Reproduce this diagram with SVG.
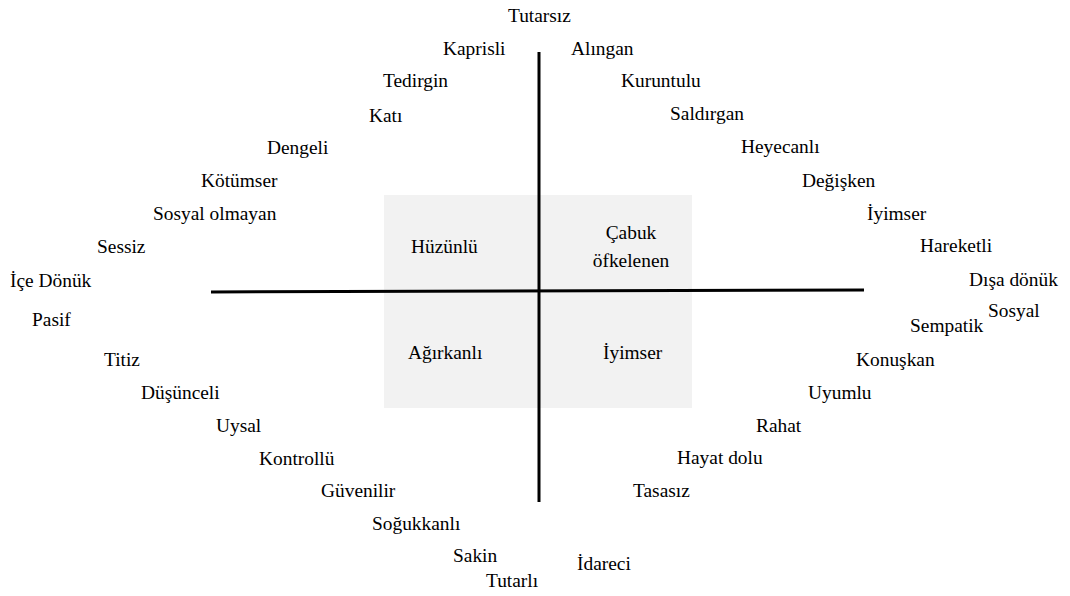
<svg xmlns="http://www.w3.org/2000/svg" width="1070" height="596" viewBox="0 0 1070 596">
<style>
text{font-family:"Liberation Serif","Times New Roman",serif;font-size:19.4px;fill:#000}
.box{fill:#f2f2f2}
.axis{stroke:#000;stroke-width:3;fill:none}
</style>
<rect width="1070" height="596" fill="#fff"/>
<g id="quadrants">
<rect class="box" x="384" y="195" width="308" height="213"/>
</g>
<g id="connectors">
<line class="axis" x1="539" y1="52" x2="539" y2="502"/>
<line class="axis" x1="211" y1="292" x2="864" y2="290"/>
</g>
<g id="q-huzunlu"><text x="411" y="253">Hüzünlü</text></g>
<g id="q-cabuk"><text x="631" y="239" text-anchor="middle">Çabuk</text><text x="631" y="267" text-anchor="middle">öfkelenen</text></g>
<g id="q-agirkanli"><text x="408" y="359">Ağırkanlı</text></g>
<g id="q-iyimser"><text x="603" y="359">İyimser</text></g>
<g id="t1"><text x="508" y="22">Tutarsız</text></g>
<g id="t2"><text x="443" y="55">Kaprisli</text></g>
<g id="t3"><text x="571" y="55">Alıngan</text></g>
<g id="t4"><text x="383" y="87">Tedirgin</text></g>
<g id="t5"><text x="621" y="87">Kuruntulu</text></g>
<g id="t6"><text x="369" y="122">Katı</text></g>
<g id="t7"><text x="670" y="120">Saldırgan</text></g>
<g id="t8"><text x="267" y="154">Dengeli</text></g>
<g id="t9"><text x="741" y="153">Heyecanlı</text></g>
<g id="t10"><text x="201" y="187">Kötümser</text></g>
<g id="t11"><text x="802" y="187">Değişken</text></g>
<g id="t12"><text x="153" y="220">Sosyal olmayan</text></g>
<g id="t13"><text x="867" y="220">İyimser</text></g>
<g id="t14"><text x="97" y="253">Sessiz</text></g>
<g id="t15"><text x="920" y="252">Hareketli</text></g>
<g id="t16"><text x="10" y="287">İçe Dönük</text></g>
<g id="t17"><text x="969" y="286">Dışa dönük</text></g>
<g id="t18"><text x="988" y="317">Sosyal</text></g>
<g id="t19"><text x="910" y="332">Sempatik</text></g>
<g id="t20"><text x="32" y="326">Pasif</text></g>
<g id="t21"><text x="104" y="366">Titiz</text></g>
<g id="t22"><text x="856" y="366">Konuşkan</text></g>
<g id="t23"><text x="141" y="399">Düşünceli</text></g>
<g id="t24"><text x="808" y="399">Uyumlu</text></g>
<g id="t25"><text x="216" y="432">Uysal</text></g>
<g id="t26"><text x="756" y="432">Rahat</text></g>
<g id="t27"><text x="259" y="465">Kontrollü</text></g>
<g id="t28"><text x="677" y="464">Hayat dolu</text></g>
<g id="t29"><text x="321" y="497">Güvenilir</text></g>
<g id="t30"><text x="633" y="497">Tasasız</text></g>
<g id="t31"><text x="372" y="530">Soğukkanlı</text></g>
<g id="t32"><text x="453" y="562">Sakin</text></g>
<g id="t33"><text x="577" y="570">İdareci</text></g>
<g id="t34"><text x="486" y="587">Tutarlı</text></g>
</svg>
